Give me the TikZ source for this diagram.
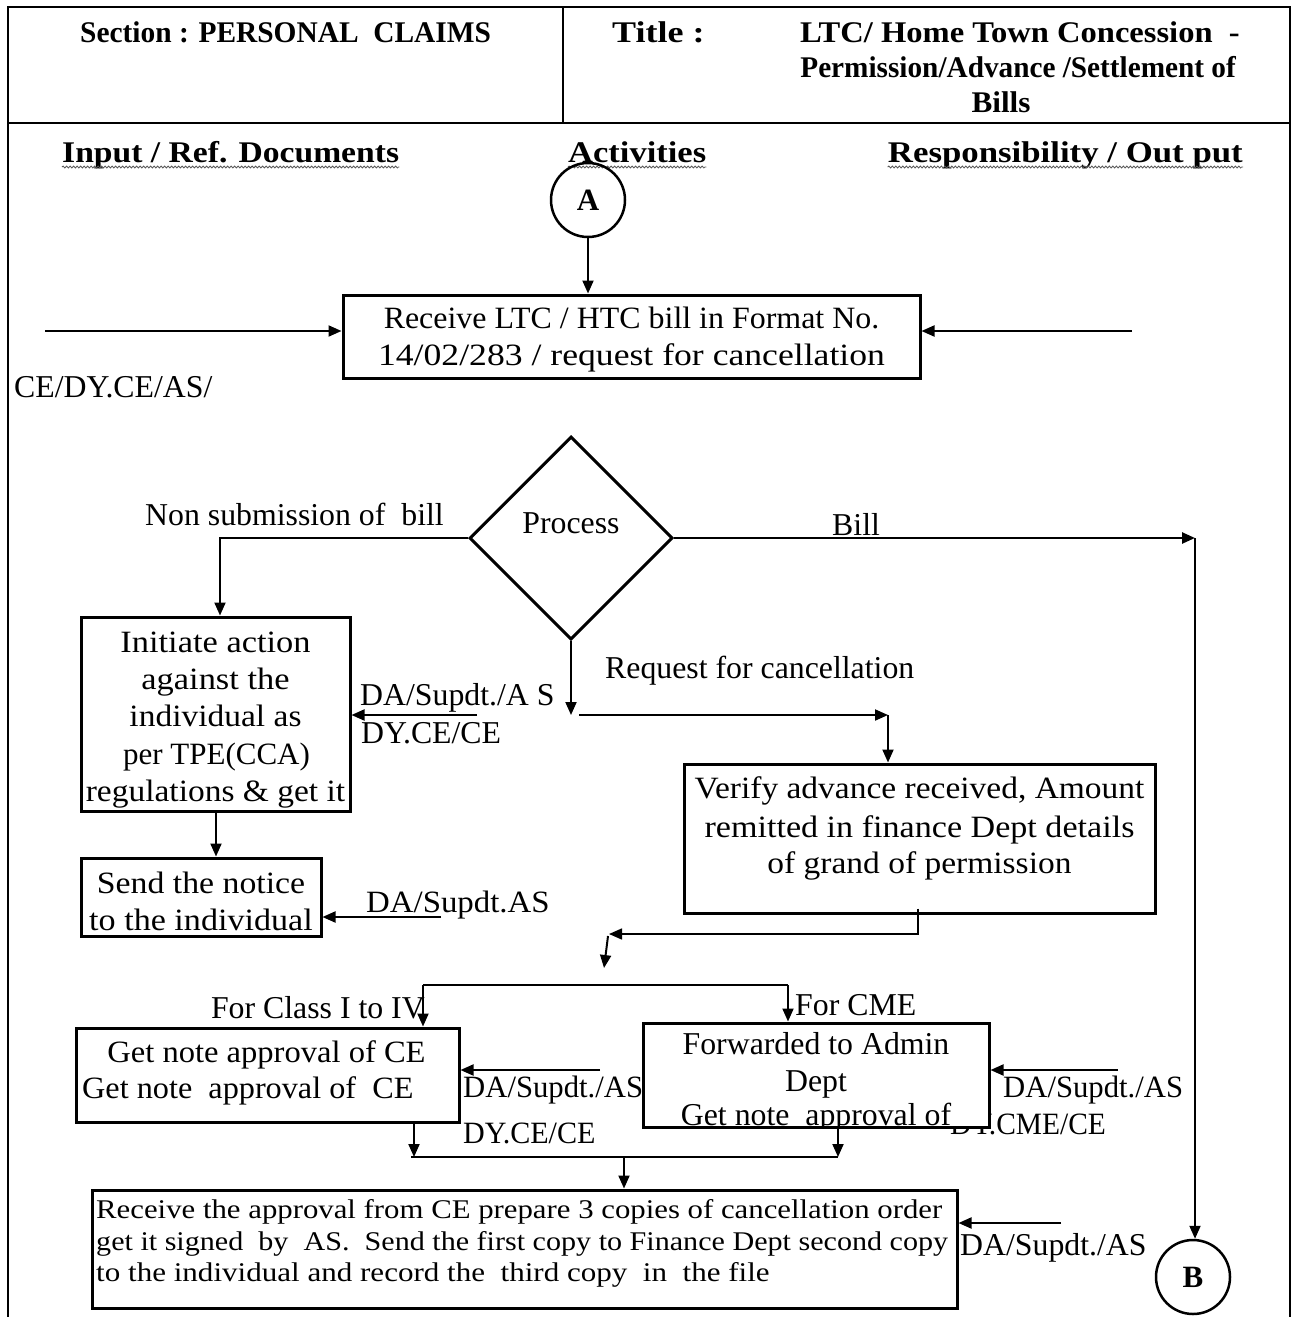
\documentclass[tikz,border=0pt]{standalone}
\usepackage{fontspec}
\usepackage{graphicx}
\setmainfont{Liberation Serif}
\usetikzlibrary{arrows.meta,shapes.geometric,decorations.pathmorphing}
% horizontal stretch of one line of text
\newcommand\sx[2]{\scalebox{#1}[1]{#2}}

\begin{document}
\begin{tikzpicture}[x=1pt,y=-1pt,
  formline/.style={line width=2.5pt},
  stepbox/.style={draw, line width=3pt, fill=white, inner sep=0pt},
  decision/.style={draw, diamond, aspect=1, line width=3pt, inner sep=0pt,
    minimum width=203pt, minimum height=203pt},
  termcirc/.style={draw, circle, line width=2.5pt, minimum size=74pt, inner sep=0pt,
    font=\bfseries\fontsize{31}{33}\selectfont},
  conn/.style={line width=2pt, -{Triangle[length=13pt,width=11pt]}},
  thinconn/.style={line width=1.5pt, -{Triangle[length=13pt,width=11pt]}},
  barline/.style={line width=2.5pt},
  lbl/.style={font=\fontsize{31.8}{37}\selectfont, inner sep=0pt},
  clbl/.style={font=\fontsize{31}{37}\selectfont, inner sep=0pt},
  clblw/.style={font=\fontsize{27}{32}\selectfont, inner sep=0pt},
  hlbl/.style={font=\bfseries\fontsize{30}{35}\selectfont, inner sep=0pt},
  squiggle/.style={decorate, decoration={snake, amplitude=1pt, segment length=3.5pt},
    line width=0.8pt, black!65}
]
\useasboundingbox (0,0) rectangle (1295,1317);

% ---- form frame and header ----
\draw[formline] (8,1317) -- (8,7) -- (1290,7) -- (1290,1317);
\draw[formline] (8,123) -- (1290,123);
\draw[formline] (563,7) -- (563,123);

\node[hlbl, anchor=base west] (sec) at (80,42) {\sx{0.98}{Section : PERSONAL~~CLAIMS}};
\node[hlbl, anchor=base west] (ttl) at (612,42) {\sx{1.2}{Title :}};
\node[hlbl, anchor=base east] (ttl1) at (1240,42) {\sx{1.085}{LTC/ Home Town Concession~~-}};
\node[hlbl, anchor=base east] (ttl2) at (1236,77) {\sx{0.975}{Permission/Advance /Settlement of}};
\node[hlbl, anchor=base] (ttl3) at (1001,112) {\sx{1.04}{Bills}};

\node[hlbl, anchor=base west] (inp) at (62,162) {\sx{1.12}{Input / Ref. Documents}};
\node[hlbl, anchor=base west] (act) at (568,162) {\sx{1.15}{Activities}};
\node[hlbl, anchor=base east] (resp) at (1243,162) {\sx{1.16}{Responsibility / Out put}};
\foreach \h in {inp,act,resp}
  \draw[squiggle] ([yshift=-5pt]\h.base west) -- ([yshift=-5pt]\h.base east);

% ---- entry connector and first step ----
\node[termcirc] (A) at (588,200) {A};
\node[stepbox, minimum width=577pt, minimum height=83pt] (recv) at (631.5,336.5) {};
\node[clbl, anchor=base] (recv1) at (631.5,328) {\sx{1.03}{Receive LTC / HTC bill in Format No.}};
\node[clbl, anchor=base] (recv2) at (631.5,365) {\sx{1.15}{14/02/283 / request for cancellation}};
\draw[conn] (A) -- (A |- recv.north);

\coordinate (inL) at (45,331);
\coordinate (inR) at (1132,331);
\draw[conn] (inL) -- (inL -| recv.west);
\draw[conn] (inR) -- (inR -| recv.east);
\node[lbl, anchor=base west] (ce) at (14,397) {CE/DY.CE/AS/};

% ---- decision ----
\node[decision] (proc) at (571,538) {};
\node[lbl, anchor=base] (procT) at (571,533) {Process};
\node[lbl, anchor=base west] (nsb) at (145,525) {Non submission of~~bill};
\node[lbl, anchor=base west] (billT) at (832,535) {Bill};

% ---- non submission branch ----
\node[stepbox, minimum width=269pt, minimum height=194pt] (init) at (215.5,714) {};
\node[clbl, anchor=base] (init1) at (215.5,652) {\sx{1.11}{Initiate action}};
\node[clbl, anchor=base] (init2) at (215.5,689) {\sx{1.11}{against the}};
\node[clbl, anchor=base] (init3) at (215.5,726) {\sx{1.08}{individual as}};
\node[clbl, anchor=base] (init4) at (216.5,764) {\sx{1.0}{per TPE(CCA)}};
\node[clbl, anchor=base] (init5) at (215.5,801) {\sx{1.08}{regulations \& get it}};

\coordinate (nsC) at (220,538);
\draw[conn] (proc.west) -- (nsC) -- (nsC |- init.north);

\coordinate (r1) at (477,715);
\draw[conn] (r1) -- (r1 -| init.east);
\node[lbl, anchor=base west] (r1a) at (360,705) {DA/Supdt./A~S};
\node[lbl, anchor=base west] (r1b) at (361,743) {DY.CE/CE};

\node[stepbox, minimum width=240pt, minimum height=78pt] (send) at (201,897) {};
\node[clbl, anchor=base] (send1) at (201,893) {\sx{1.09}{Send the notice}};
\node[clbl, anchor=base] (send2) at (201,930) {\sx{1.1}{to the individual}};
\coordinate (is) at (216,830);
\draw[conn] (is |- init.south) -- (is |- send.north);

\coordinate (r2) at (441,917);
\draw[conn] (r2) -- (r2 -| send.east);
\node[clbl, anchor=base west] (r2a) at (366,912) {\sx{1.06}{DA/Supdt.AS}};

% ---- bill branch ----
\node[termcirc] (B) at (1193,1277) {B};
\coordinate (billC) at (1195,538);
\draw[conn, line width=2.5pt] (proc.east) -- (billC);
\draw[conn] (billC) -- (billC |- B.north);

% ---- cancellation branch ----
\node[lbl, anchor=base west] (rqT) at (605,678) {Request for cancellation};
\coordinate (rqA) at (571,715);
\coordinate (rqB) at (579,715);
\coordinate (rqC) at (888,715);
\draw[conn] (proc.south) -- (rqA);
\draw[conn] (rqB) -- (rqC);

\node[stepbox, minimum width=471pt, minimum height=149pt] (ver) at (919.5,838.5) {};
\node[clbl, anchor=base] (ver1) at (919.5,798) {\sx{1.08}{Verify advance received, Amount}};
\node[clbl, anchor=base] (ver2) at (919.5,837) {\sx{1.1}{remitted in finance Dept details}};
\node[clbl, anchor=base] (ver3) at (919.5,873) {\sx{1.08}{of grand of permission}};
\draw[conn] (rqC) -- (rqC |- ver.north);

\coordinate (v1) at (918,934);
\coordinate (v2) at (609,934);
\coordinate (v3) at (608,936);
\coordinate (v4) at (604,968);
\draw[thinconn] ([yshift=6pt]ver.south -| v1) -- (v1) -- (v2);
\draw[conn] (v3) -- (v4);

% ---- class split ----
\node[stepbox, minimum width=383pt, minimum height=94pt] (gn) at (267.5,1075) {};
\node[clbl, anchor=base] (gn1) at (266.5,1062) {\sx{1.05}{Get note approval of CE}};
\node[clbl, anchor=base west] (gn2) at (82,1098) {\sx{1.04}{Get note~~approval of~~CE}};

% label partly covered by the admin box drawn over it
\node[clbl, anchor=base west] (r4b) at (950,1134) {\sx{0.95}{DY.CME/CE}};
\node[stepbox, minimum width=346pt, minimum height=104pt] (fw) at (816,1075) {};
\node[lbl, anchor=base] (fw1) at (816,1054) {Forwarded to Admin};
\node[lbl, anchor=base] (fw2) at (816,1091) {Dept};
\begin{scope}
  \clip ([xshift=1.5pt,yshift=3pt]fw.south west) rectangle ([xshift=-3pt,yshift=-3pt]fw.north east);
  \node[lbl, anchor=base] (fw3) at (816,1125) {Get note~~approval of};
\end{scope}

\coordinate (s1) at (423,985);
\coordinate (s2) at (788,985);
\draw[barline] (s1) -- (s2);
\draw[conn] (s1) -- (s1 |- gn.north);
\draw[conn] (s2) -- (s2 |- fw.north);
\node[lbl, anchor=base east] (fc1) at (425,1018) {For Class I to IV};
\node[lbl, anchor=base west] (fc2) at (795,1015) {For CME};

\coordinate (r3) at (600,1070);
\draw[conn] (r3) -- (r3 -| gn.east);
\node[clbl, anchor=base west] (r3a) at (463,1097) {\sx{0.99}{DA/Supdt./AS}};
\node[clbl, anchor=base west] (r3b) at (463,1143) {\sx{0.97}{DY.CE/CE}};

\coordinate (r4) at (1118,1070);
\draw[conn] (r4) -- (r4 -| fw.east);
\node[clbl, anchor=base west] (r4a) at (1003,1097) {\sx{0.99}{DA/Supdt./AS}};

% ---- merge and final step ----
\node[stepbox, minimum width=865pt, minimum height=118pt] (fin) at (524.5,1249) {};
\node[clblw, anchor=base west] (fin1) at (96,1218) {\sx{1.14}{Receive the approval from CE prepare 3 copies of cancellation order}};
\node[clblw, anchor=base west] (fin2) at (96,1250) {\sx{1.115}{get it signed~~by~~AS.~~Send the first copy to Finance Dept second copy}};
\node[clblw, anchor=base west] (fin3) at (96,1281) {\sx{1.15}{to the individual and record the~~third copy~~in~~the file}};

\coordinate (m1) at (411,1157);
\coordinate (m2) at (838,1157);
\coordinate (m3) at (624,1157);
\coordinate (d1) at (414,1157);
\draw[barline] (m1) -- (m2);
\draw[conn] (d1 |- gn.south) -- (d1);
\draw[conn] (m2 |- fw.south) -- (m2);
\draw[conn] (m3) -- (m3 |- fin.north);

\coordinate (r5) at (1061,1223);
\draw[conn] (r5) -- (r5 -| fin.east);
\node[lbl, anchor=base west] (r5a) at (960,1255) {DA/Supdt./AS};
\end{tikzpicture}
\end{document}
